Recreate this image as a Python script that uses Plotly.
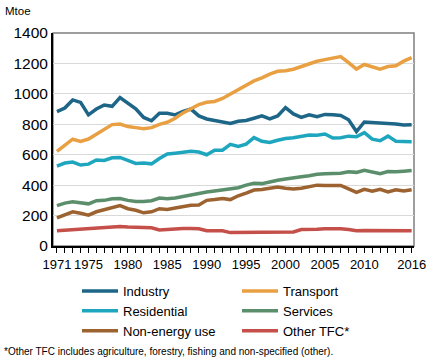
import plotly.graph_objects as go

years = list(range(1971, 2017))

industry = [883, 907, 960, 944, 862, 900, 927, 918, 975, 938, 902, 845, 823, 872, 872, 862, 885, 900, 855, 835,
            825, 810, 805, 820, 825, 840, 855, 835, 855, 910, 868, 845, 862, 850, 865, 862, 858, 830, 752, 815,
            812, 808, 810, 802, 795, 797]
transport = [622, 665, 702, 688, 703, 735, 767, 798, 802, 785, 778, 770, 778, 800, 813, 840, 875, 905, 930, 945,
             950, 970, 1000, 1030, 1060, 1085, 1105, 1130, 1148, 1152, 1162, 1180, 1198, 1214, 1225, 1235, 1245, 1205, 1163, 1193,
             1178, 1163, 1180, 1185, 1215, 1238]
residential = [525, 545, 552, 532, 538, 565, 562, 580, 582, 560, 543, 545, 540, 575, 605, 610, 618, 622, 618, 600,
               630, 630, 668, 655, 670, 712, 688, 680, 695, 707, 712, 720, 730, 728, 736, 710, 712, 722, 718, 745,
               702, 692, 722, 688, 685, 686]
services = [265, 282, 290, 282, 277, 298, 300, 310, 312, 300, 292, 293, 298, 315, 310, 315, 325, 338, 345, 355,
            362, 368, 375, 383, 400, 412, 410, 422, 432, 440, 445, 455, 462, 472, 475, 475, 478, 488, 484, 498,
            485, 475, 490, 488, 492, 496]
non_energy = [185, 205, 225, 215, 203, 225, 238, 255, 265, 245, 235, 218, 225, 245, 240, 250, 258, 268, 270, 300,
              305, 312, 305, 330, 348, 368, 372, 378, 388, 380, 375, 380, 388, 400, 398, 400, 398, 375, 352, 372,
              360, 372, 355, 370, 362, 370]
other_tfc = [100, 103, 108, 112, 112, 118, 120, 122, 128, 125, 124, 120, 120, 105, 110, 115, 115, 115, 113, 100,
             102, 100, 88, 88, 90, 92, 92, 88, 88, 90, 92, 108, 108, 110, 114, 116, 114, 108, 100, 102,
             102, 100, 100, 98, 98, 100]

x_tick_vals = [1971, 1975, 1980, 1985, 1990, 1995, 2000, 2005, 2010, 2016]
x_tick_text = ["1971", "1975", "1980", "1985", "1990", "1995", "2000", "2005", "2010", "2016"]

series = [
    ("Industry", industry, "#1D6687", "legend"),
    ("Transport", transport, "#E8A043", "legend2"),
    ("Residential", residential, "#1FA6BF", "legend"),
    ("Services", services, "#5B8F6C", "legend2"),
    ("Non-energy use", non_energy, "#9C6331", "legend"),
    ("Other TFC*", other_tfc, "#C5504A", "legend2"),
]

FONT = "Liberation Sans, Arial, sans-serif"
NARROW = "Liberation Sans Narrow, Arial Narrow, Liberation Sans, sans-serif"

# plot area in pixels
L, R, T, B = 53, 414, 33, 246
PW, PH = R - L, B - T


def px_x(p):
    return (p - L) / PW


def px_y(p):
    return (B - p) / PH


fig = go.Figure()
for name, vals, color, lg in series:
    fig.add_trace(go.Scatter(x=years, y=vals, mode="lines", name=name,
                             line=dict(color=color, width=3.5), legend=lg))

fig.update_layout(
    width=435, height=363,
    margin=dict(l=L, r=435 - R, t=T, b=363 - B, autoexpand=False),
    paper_bgcolor="white", plot_bgcolor="white",
    font=dict(family=FONT, color="#000000", size=13),
    xaxis=dict(range=[1970.5, 2016.3], tickmode="array", tickvals=x_tick_vals, ticktext=x_tick_text,
               tickangle=0,
               showgrid=False, showline=True, linecolor="#000000", linewidth=2,
               ticks="outside", ticklen=5, tickcolor="#000000", tickwidth=1,
               tickfont=dict(size=13, family=NARROW),
               minor=dict(tickmode="linear", tick0=1971, dtick=1, ticks="outside", ticklen=5,
                          tickcolor="#000000", tickwidth=1, showgrid=False),
               zeroline=False, automargin=False),
    yaxis=dict(range=[0, 1400], dtick=200, showgrid=True, gridcolor="#D9D9D9", gridwidth=1,
               showline=True, linecolor="#000000", linewidth=2, zeroline=False,
               ticks="", tickfont=dict(size=15.5, family=FONT), automargin=False),
    legend=dict(x=px_x(77), y=px_y(276),
                xanchor="left", yanchor="top", orientation="v", bgcolor="rgba(0,0,0,0)",
                font=dict(size=13, family=FONT), tracegroupgap=0, itemwidth=36),
    legend2=dict(x=px_x(237), y=px_y(276),
                 xanchor="left", yanchor="top", orientation="v", bgcolor="rgba(0,0,0,0)",
                 font=dict(size=13, family=FONT), tracegroupgap=0, itemwidth=36),
    shapes=[dict(type="rect", xref="paper", yref="paper", x0=0, x1=1, y0=0, y1=1,
                 line=dict(color="#7F7F7F", width=1.5), layer="below")],
    annotations=[
        dict(text="Mtoe", xref="paper", yref="paper", x=px_x(3), y=px_y(3),
             xanchor="left", yanchor="top", showarrow=False, font=dict(size=11.5, family=FONT)),
        dict(text="*Other TFC includes agriculture, forestry, fishing and non-specified (other).",
             xref="paper", yref="paper", x=px_x(2), y=px_y(344),
             xanchor="left", yanchor="top", showarrow=False,
             font=dict(size=10, family=NARROW)),
    ],
)

fig.write_html("out.html", config={"displayModeBar": False},
               post_script="document.body.style.margin='0';document.body.style.overflow='hidden';")
